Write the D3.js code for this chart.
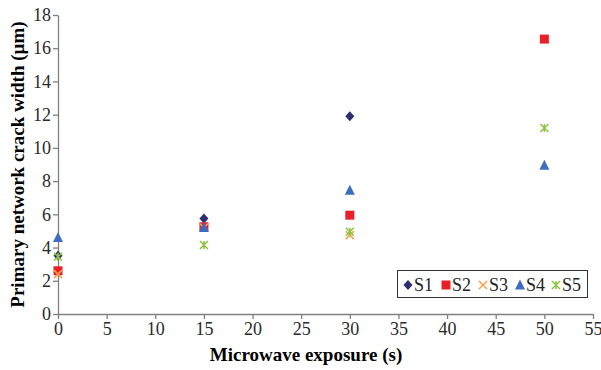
<!DOCTYPE html>
<html lang="en">
<head>
    <meta charset="UTF-8">
    <title>Crack width vs microwave exposure</title>
    <script src="https://d3js.org/d3.v7.min.js"></script>
    <style>
        body { margin: 0; background: #fff; }
    </style>
</head>
<body>
<svg id="svg" width="601" height="370"></svg>
<script>
    // data
    const seriesNames = ["S1", "S2", "S3", "S4", "S5"];
    const s1 = [[0, 3.5], [15, 5.75], [30, 11.9]];
    const s2 = [[0, 2.6], [15, 5.25], [30, 5.95], [50, 16.55]];
    const s3 = [[0, 2.4], [15, 5.2], [30, 4.75]];
    const s4 = [[0, 4.6], [15, 5.2], [30, 7.45], [50, 8.95]];
    const s5 = [[0, 3.45], [15, 4.15], [30, 4.95], [50, 11.2]];
    const xTicks = d3.range(0, 56, 5);
    const yTicks = d3.range(0, 19, 2);

    const series = [s1, s2, s3, s4, s5];
    const colors = ["#2b2d6e", "#e8202a", "#f7a04a", "#3e6cbf", "#8cc43f"];
    const shapes = ["diamond", "square", "cross", "triangle", "star"];

    const FONT = '"Liberation Serif"';
    const svg = d3.select("#svg");

    const x = d3.scaleLinear().domain([0, 55]).range([58, 593]);
    const y = d3.scaleLinear().domain([0, 18]).range([314, 15]);

    const axisColor = "#808080";

    const gx = svg.append("g").attr("transform", `translate(0,${y(0)})`)
        .call(d3.axisBottom(x).tickValues(xTicks).tickSize(5).tickPadding(3).tickSizeOuter(0));
    const gy = svg.append("g").attr("transform", `translate(${x(0)},0)`)
        .call(d3.axisLeft(y).tickValues(yTicks).tickSize(5).tickPadding(2).tickSizeOuter(0));
    [gx, gy].forEach(g => {
        g.select(".domain").attr("stroke", axisColor).attr("stroke-width", 1.3);
        g.selectAll(".tick line").attr("stroke", axisColor).attr("stroke-width", 1.3);
        g.selectAll(".tick text").attr("fill", "#2a2a2a")
            .style("font-family", FONT).style("font-size", "18px");
    });

    svg.append("text")
        .attr("x", 306).attr("y", 361)
        .attr("text-anchor", "middle")
        .style("font-family", FONT).style("font-size", "19px").style("font-weight", "bold")
        .text("Microwave exposure (s)");

    svg.append("text")
        .attr("transform", `translate(24,${(y(0) + y(18)) / 2}) rotate(-90)`)
        .attr("text-anchor", "middle")
        .style("font-family", FONT).style("font-size", "19px").style("font-weight", "bold")
        .text("Primary network crack width (µm)");

    function drawMarker(g, shape, color, cx, cy) {
        if (shape === "diamond") {
            g.append("path").attr("d", `M${cx},${cy - 5}L${cx + 4.5},${cy}L${cx},${cy + 5}L${cx - 4.5},${cy}Z`)
                .attr("fill", color);
        } else if (shape === "square") {
            g.append("rect").attr("x", cx - 4.5).attr("y", cy - 4.5).attr("width", 9).attr("height", 9)
                .attr("fill", color);
        } else if (shape === "triangle") {
            g.append("path").attr("d", `M${cx},${cy - 5.5}L${cx + 5},${cy + 4.5}L${cx - 5},${cy + 4.5}Z`)
                .attr("fill", color);
        } else if (shape === "cross") {
            g.append("path").attr("d", `M${cx - 4},${cy - 4}L${cx + 4},${cy + 4}M${cx - 4},${cy + 4}L${cx + 4},${cy - 4}`)
                .attr("stroke", color).attr("stroke-width", 1.5).attr("fill", "none");
        } else if (shape === "star") {
            g.append("path").attr("d", `M${cx - 4},${cy - 4}L${cx + 4},${cy + 4}M${cx - 4},${cy + 4}L${cx + 4},${cy - 4}M${cx},${cy - 4}L${cx},${cy + 4}`)
                .attr("stroke", color).attr("stroke-width", 1.5).attr("fill", "none");
        }
    }

    const marks = svg.append("g");
    series.forEach((s, i) => {
        s.forEach(d => drawMarker(marks, shapes[i], colors[i], x(d[0]), y(d[1])));
    });

    // legend
    const lg = svg.append("g");
    lg.append("rect").attr("x", 397.5).attr("y", 270.5).attr("width", 190).attr("height", 27)
        .attr("fill", "#fff").attr("stroke", "#333").attr("stroke-width", 1);
    const legX = [408, 446, 483, 520, 556];
    seriesNames.forEach((n, i) => {
        drawMarker(lg, shapes[i], colors[i], legX[i], 285);
        lg.append("text").attr("x", legX[i] + 6).attr("y", 291)
            .style("font-family", FONT).style("font-size", "18px").attr("fill", "#222").text(n);
    });
</script>
</body>
</html>
